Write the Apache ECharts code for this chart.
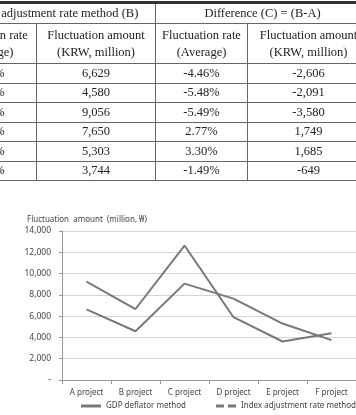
<!DOCTYPE html>
<html>
<head>
<meta charset="utf-8">
<script src="https://cdn.jsdelivr.net/npm/echarts@6/dist/echarts.min.js"></script>
<style>
  html, body { margin: 0; padding: 0; background: #fff; overflow: hidden; }
  #main { position: absolute; left: 0; top: 0; width: 356px; height: 415px; }
  #tbl { position: absolute; left: -66px; top: 1px; border-collapse: collapse; table-layout: fixed; width: 435px;
         font-family: "Liberation Serif", "Times New Roman", serif; font-size: 12.5px; color: #222; }
  #tbl td { border: 1px solid #666; text-align: center; padding: 0; white-space: nowrap; overflow: hidden; }
  #tbl tr.h1 td { height: 19px; border-top: 3px solid #333; }
  #tbl tr.h1 td:first-child { padding-left: 18px; }
  #tbl tr.h2 td:first-child, #tbl tr.d td:first-child { padding-left: 6px; }
  #tbl tr.h2 td { height: 39px; line-height: 17px; }
  #tbl tr.d td { height: 18.5px; }
</style>
</head>
<body>
<div id="main"></div>
<table id="tbl"></table>
<script>
// Projects and fluctuation amounts (KRW, million)
const projects = ["A project", "B project", "C project", "D project", "E project", "F project"];
const gdpDeflator = [9235, 6671, 12636, 5901, 3618, 4393];
const indexAdjustment = [6629, 4580, 9056, 7650, 5303, 3744];

// Table columns (the left part of the table is cut off)
const rateB = ["3.21%", "3.50%", "3.47%", "7.99%", "8.45%", "3.60%"];
const amountB = ["6,629", "4,580", "9,056", "7,650", "5,303", "3,744"];
const rateDiff = ["-4.46%", "-5.48%", "-5.49%", "2.77%", "3.30%", "-1.49%"];
const amountDiff = ["-2,606", "-2,091", "-3,580", "1,749", "1,685", "-649"];

// Build the table
const colWidths = [102, 119, 92, 122];
let html = "<colgroup>" + colWidths.map((w) => `<col style="width:${w}px">`).join("") + "</colgroup>";
html += '<tr class="h1"><td colspan="2">Index adjustment rate method (B)</td><td colspan="2">Difference (C) = (B-A)</td></tr>';
html += '<tr class="h2"><td>Fluctuation rate<br>(Average)</td><td>Fluctuation amount<br>(KRW, million)</td>' +
  '<td>Fluctuation rate<br>(Average)</td><td>Fluctuation amount<br>(KRW, million)</td></tr>';
for (let i = 0; i < amountB.length; i++) {
  html += `<tr class="d"><td>${rateB[i]}</td><td>${amountB[i]}</td><td>${rateDiff[i]}</td><td>${amountDiff[i]}</td></tr>`;
}
document.getElementById("tbl").innerHTML = html;

const font = "'Noto Sans', sans-serif";
const lineColor = "#787878";

const chart = echarts.init(document.getElementById("main"));
chart.setOption({
  animation: false,
  title: {
    text: "Fluctuation  amount  (million, ₩)",
    left: 22,
    top: 211,
    textStyle: { fontFamily: font, fontSize: 8, fontWeight: "normal", color: "#444" },
  },
  grid: { left: 62, right: -7, top: 231, bottom: 35 },
  legend: {
    bottom: 0,
    left: 76,
    width: 300,
    itemWidth: 20,
    itemHeight: 3,
    itemGap: 30,
    textStyle: { fontFamily: font, fontSize: 8, color: "#444" },
    data: [
      { name: "GDP deflator method", icon: "rect" },
      { name: "Index adjustment rate method", icon: "path://M0,0 L8,0 L8,3 L0,3 Z M12,0 L20,0 L20,3 L12,3 Z" },
    ],
  },
  xAxis: {
    type: "category",
    data: projects,
    boundaryGap: true,
    axisLine: { lineStyle: { color: "#999" } },
    axisTick: { show: true, length: 4, lineStyle: { color: "#999" } },
    axisLabel: { fontFamily: font, fontSize: 8, color: "#444", margin: 9, interval: 0 },
  },
  yAxis: {
    type: "value",
    min: 0,
    max: 14000,
    interval: 2000,
    axisLine: { show: true, lineStyle: { color: "#999" } },
    axisTick: { show: true, length: 3, lineStyle: { color: "#999" } },
    splitLine: { lineStyle: { color: "#d4d4d4", width: 1 } },
    axisLabel: {
      fontFamily: font,
      fontSize: 8.5,
      color: "#444",
      margin: 11,
      formatter: (v) => (v === 0 ? "-" : v.toLocaleString("en-US")),
    },
  },
  series: [
    {
      name: "GDP deflator method",
      type: "line",
      data: gdpDeflator,
      symbol: "none",
      color: lineColor,
      lineStyle: { color: lineColor, width: 2 },
    },
    {
      name: "Index adjustment rate method",
      type: "line",
      data: indexAdjustment,
      symbol: "none",
      color: lineColor,
      lineStyle: { color: lineColor, width: 2 },
    },
  ],
});
</script>
</body>
</html>
